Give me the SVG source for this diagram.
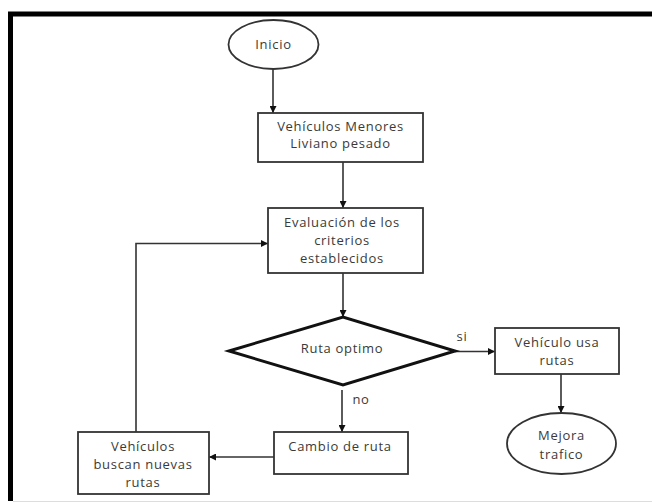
<svg xmlns="http://www.w3.org/2000/svg" width="652" height="503" viewBox="0 0 652 503">
<style>
text{font-family:"Open Sans","Noto Sans","Liberation Sans",sans-serif;font-size:13px;letter-spacing:0.7px;fill:#3a3a3a;text-anchor:middle}
.box{fill:#fff;stroke:#333;stroke-width:1.8}
.dia{fill:#fff;stroke:#111;stroke-width:3}
.line{fill:none;stroke:#333;stroke-width:1.6}
</style>
<defs>
<marker id="ah" viewBox="0 0 10 10" refX="10" refY="5" markerWidth="7" markerHeight="7" markerUnits="userSpaceOnUse" orient="auto"><path d="M0,0L10,5L0,10z" fill="#111"/></marker>
</defs>
<rect width="652" height="503" fill="#fff"/>
<path d="M10.5,501V14H652" fill="none" stroke="#000" stroke-width="5"/>
<line x1="13" y1="501.5" x2="652" y2="501.5" stroke="#ddd" stroke-width="1"/>
<g id="connectors">
<line class="line" x1="273" y1="69" x2="273" y2="113" marker-end="url(#ah)"/>
<line class="line" x1="343" y1="162" x2="343" y2="208" marker-end="url(#ah)"/>
<line class="line" x1="343" y1="273" x2="343" y2="317" marker-end="url(#ah)"/>
<line class="line" x1="455" y1="351.5" x2="495" y2="351.5" marker-end="url(#ah)"/>
<line class="line" x1="561" y1="374" x2="561" y2="413" marker-end="url(#ah)"/>
<line class="line" x1="342" y1="390" x2="342" y2="432" marker-end="url(#ah)"/>
<line class="line" x1="274" y1="457" x2="209" y2="457" marker-end="url(#ah)"/>
<polyline class="line" points="136,432 136,243.5 268,243.5" marker-end="url(#ah)"/>
<text x="462" y="341">si</text>
<text x="361" y="404">no</text>
</g>
<g id="inicio"><ellipse cx="273.5" cy="44.5" rx="45" ry="24.5" class="box"/><text x="273.5" y="49">Inicio</text></g>
<g id="vehiculos-menores"><rect x="258" y="113" width="165" height="49" class="box"/><text x="340.5" y="130.5">Vehículos Menores</text><text x="340.5" y="148">Liviano pesado</text></g>
<g id="evaluacion"><rect x="268" y="208" width="155" height="65" class="box"/><text x="342" y="227">Evaluación de los</text><text x="342" y="245">criterios</text><text x="342" y="263">establecidos</text></g>
<g id="ruta-optimo"><polygon points="229,351 343,317 455,351 343,385" class="dia"/><text x="342" y="353">Ruta optimo</text></g>
<g id="vehiculo-usa"><rect x="495" y="328" width="124" height="46" class="box"/><text x="557" y="347">Vehículo usa</text><text x="557" y="365">rutas</text></g>
<g id="mejora"><ellipse cx="561.5" cy="443.5" rx="54.5" ry="30.5" class="box"/><text x="561.5" y="440">Mejora</text><text x="561.5" y="459">trafico</text></g>
<g id="cambio"><rect x="274" y="432" width="134" height="42" class="box"/><text x="340" y="451">Cambio de ruta</text></g>
<g id="buscan"><rect x="78" y="432" width="131" height="62" class="box"/><text x="143" y="451">Vehículos</text><text x="143" y="469">buscan nuevas</text><text x="143" y="487">rutas</text></g>
</svg>
